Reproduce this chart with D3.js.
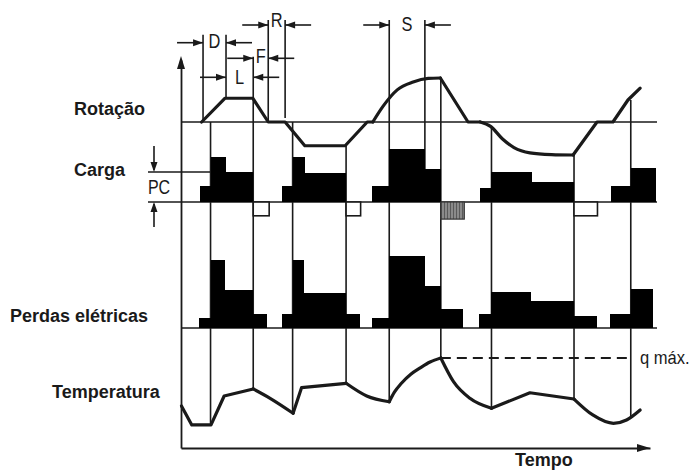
<!DOCTYPE html>
<html><head><meta charset="utf-8">
<script src="https://cdn.jsdelivr.net/npm/d3@7"></script>
<style>
body{margin:0;background:#fff;}
svg{display:block;}
.lbl{font-family:"Liberation Sans",Arial,sans-serif;font-weight:bold;font-size:18px;fill:#1a1a1a;}
.nar{font-family:"Liberation Sans",Arial,sans-serif;font-size:20px;fill:#1a1a1a;}
</style></head><body><svg id="c" width="691" height="470"></svg>
<script>
// ---------- data (time units 0..100) ----------
const boundaries     = [6.3, 15.4, 23.8, 35.2, 44.4, 55.4, 66.2, 83.8, 95.9];
const boundaryTopRot = [0, null, 0, -54, null, 100, -11, -75, 50];

const rotSegments = [
  {smooth:false, pts:[[4.4,0],[9.4,54],[15.3,54],[18.6,0],[22.2,0],[26.4,-54],[35.0,-54],[39.7,0],[40.9,0]]},
  {smooth:true,  pts:[[40.9,0],[43.1,36],[46.1,73],[49.5,91],[52.7,99],[55.3,100]]},
  {smooth:false, pts:[[55.3,100],[61.2,0],[63.8,0]]},
  {smooth:true,  pts:[[63.8,0],[66.0,-10],[68.5,-38],[71.0,-58],[74.4,-70],[79.0,-74],[83.6,-75]]},
  {smooth:false, pts:[[83.6,-75],[88.7,0],[92.1,0],[95.3,50],[97.9,77]]}
];

// load steps [start, end, value]; PC = 10
const loadSteps = [
  [4.1,6.3,5.3],[6.3,9.5,15.1],[9.5,15.4,10.1],
  [21.6,23.8,5.3],[23.8,26.4,15.1],[26.4,35.2,9.8],
  [40.8,44.4,5.3],[44.4,52.0,17.6],[52.0,55.4,11.0],
  [63.8,66.2,4.6],[66.2,74.9,9.9],[74.9,83.8,6.6],
  [91.7,95.9,5.4],[95.9,101.3,11.2]
];
const brakeSteps = [[15.4,18.8,-4.6],[35.2,38.3,-4.6],[83.8,88.8,-4.6]];
const reverseSteps = [[55.4,60.4,-5.7]];

const lossSteps = [
  [3.9,6.3,3.4],[6.3,9.4,22.7],[9.4,15.4,12.7],[15.4,18.4,4.6],
  [21.6,23.8,4.6],[23.8,26.2,22.7],[26.2,35.2,11.8],[35.2,38.2,4.6],
  [40.8,44.4,3.2],[44.4,52.0,24.0],[52.0,55.4,14.1],[55.4,60.2,6.2],
  [63.6,66.2,4.6],[66.2,74.6,12.1],[74.6,83.8,9.1],[83.8,88.8,4.0],
  [91.5,95.9,4.6],[95.9,100.6,12.9]
];

const tempSegments = [
  {smooth:false, pts:[[0.1,46.7],[2.3,25.6],[6.4,25.6],[9.2,57.8],[15.4,65.6]]},
  {smooth:true,  pts:[[15.4,65.6],[19.0,55.2],[23.9,38.6]]},
  {smooth:false, pts:[[23.9,38.6],[25.7,67.0],[35.2,71.9]]},
  {smooth:true,  pts:[[35.2,71.9],[39.6,57.8],[44.4,51.4]]},
  {smooth:true,  pts:[[44.4,51.4],[45.5,62],[47.0,72],[49.0,82],[51.0,89],[53.1,95.5],[55.4,100]]},
  {smooth:true,  pts:[[55.4,100],[58.1,73.7],[61.6,55.2],[66.2,44.1]]},
  {smooth:false, pts:[[66.2,44.1],[74.4,61.4],[83.8,54.4]]},
  {smooth:true,  pts:[[83.8,54.4],[87.8,36.7],[92.2,27.4],[95.0,31.1],[97.9,42.2]]}
];
const qMax = 100;

const dimLabels = ['D','L','F','R','S'];
const dimStart  = [4.7, 9.6, 15.4, 18.6, 44.4];
const dimEnd    = [9.6, 15.4, 18.6, 22.2, 52.0];

const rowLabels = ['Rotação','Carga','Perdas elétricas','Temperatura'];
const axisLabel = 'Tempo';

// ---------- layout ----------
const dimRowY   = [42.7, 77.3, 58.3, 25, 25];
const dimTextY  = [48.3, 83.5, 62.7, 27.3, 30.7];
const rowLabelPos = [[74,115],[74,176],[10,322],[52,398]];

const svg = d3.select('#c');
const INK = '#1a1a1a';
const x     = d3.scaleLinear().domain([0,100]).range([181,650]);
const yRot  = d3.scaleLinear().domain([0,100]).range([122,78]);
const yLoad = d3.scaleLinear().domain([0,10]).range([202,172]);
const yLoss = d3.scaleLinear().domain([0,10]).range([328,298]);
const yTemp = d3.scaleLinear().domain([0,100]).range([448,358]);
const yAx   = d3.scaleLinear().domain([0,1]).range([448,60]);
const END = 101.5;

const defs = svg.append('defs');
const pat = defs.append('pattern').attr('id','gp').attr('patternUnits','userSpaceOnUse').attr('width',3).attr('height',3);
pat.append('rect').attr('width',3).attr('height',3).attr('fill','#8a8a8a');
pat.append('rect').attr('width',1).attr('height',3).attr('fill','#5a5a5a');

function hline(x1,x2,y,w){svg.append('line').attr('x1',x1).attr('x2',x2).attr('y1',y).attr('y2',y).attr('stroke',INK).attr('stroke-width',w||1.6);}
function vline(xx,y1,y2,w){svg.append('line').attr('x1',xx).attr('x2',xx).attr('y1',y1).attr('y2',y2).attr('stroke',INK).attr('stroke-width',w||1.6);}
function arrowHead(tx,ty,dir,len,hw){
  len=len||10; hw=hw||3.5; let p;
  if(dir==='r') p=[[tx,ty],[tx-len,ty-hw],[tx-len,ty+hw]];
  if(dir==='l') p=[[tx,ty],[tx+len,ty-hw],[tx+len,ty+hw]];
  if(dir==='u') p=[[tx,ty],[tx-hw,ty+len],[tx+hw,ty+len]];
  if(dir==='d') p=[[tx,ty],[tx-hw,ty-len],[tx+hw,ty-len]];
  svg.append('polygon').attr('points',p.map(d=>d.join(',')).join(' ')).attr('fill',INK);
}
function narrowText(cx,by,txt,size,sx,anchor){
  svg.append('text').attr('class','nar').style('font-size',size+'px')
    .attr('transform',`translate(${cx},${by}) scale(${sx},1)`)
    .attr('text-anchor',anchor||'middle').text(txt);
}

const tempAll = [];
tempSegments.forEach(s=>s.pts.forEach(p=>tempAll.push(p)));
tempAll.sort((a,b)=>a[0]-b[0]);
function tempAt(t){
  for(let i=0;i<tempAll.length-1;i++){
    const a=tempAll[i],b=tempAll[i+1];
    if(t>=a[0]&&t<=b[0]){ if(b[0]===a[0]) return a[1]; return a[1]+(b[1]-a[1])*(t-a[0])/(b[0]-a[0]); }
  }
  return tempAll[tempAll.length-1][1];
}

hline(x(0), x(END), yRot(0));
hline(148, x(boundaries[0]), yLoad(10));
hline(148, x(END), yLoad(0));
hline(x(0), x(END), yLoss(0));

boundaries.forEach((t,i)=>{
  let top;
  if(boundaryTopRot[i]===null){ top = (i===1) ? dimRowY[2]-1.5 : dimRowY[4]-5; }
  else top = yRot(boundaryTopRot[i]);
  vline(x(t), top, yTemp(tempAt(t)));
});
vline(x(dimStart[0]), dimRowY[0]-8, yRot(0));
vline(x(dimEnd[0]), dimRowY[0]-8, yRot(54));
vline(x(dimStart[3]), dimRowY[3]-5, yRot(0));
vline(x(dimEnd[3]), dimRowY[3]-5, yRot(9));
vline(x(dimEnd[4]), dimRowY[4]-5, yLoad(11.0));

dimLabels.forEach((lab,i)=>{
  const a=x(dimStart[i]), b=x(dimEnd[i]), y=dimRowY[i];
  hline(a-26, a, y, 1.6); arrowHead(a, y, 'r');
  hline(b, b+26, y, 1.6); arrowHead(b, y, 'l');
  narrowText((a+b)/2, dimTextY[i], lab, 20.5, 0.8);
});

svg.append('g').selectAll('rect').data(loadSteps).join('rect')
  .attr('x',d=>x(d[0])).attr('width',d=>x(d[1])-x(d[0]))
  .attr('y',d=>yLoad(d[2])).attr('height',d=>yLoad(0)-yLoad(d[2]))
  .attr('fill','#000').attr('shape-rendering','crispEdges');
svg.append('g').selectAll('rect').data(brakeSteps).join('rect')
  .attr('x',d=>x(d[0])).attr('width',d=>x(d[1])-x(d[0]))
  .attr('y',yLoad(0)).attr('height',d=>yLoad(d[2])-yLoad(0))
  .attr('fill','#fff').attr('stroke',INK).attr('stroke-width',1.6);
svg.append('g').selectAll('rect').data(reverseSteps).join('rect')
  .attr('x',d=>x(d[0])).attr('width',d=>x(d[1])-x(d[0]))
  .attr('y',yLoad(0)).attr('height',d=>yLoad(d[2])-yLoad(0))
  .attr('fill','url(#gp)').attr('stroke','#333').attr('stroke-width',1.2);

svg.append('g').selectAll('rect').data(lossSteps).join('rect')
  .attr('x',d=>x(d[0])).attr('width',d=>x(d[1])-x(d[0]))
  .attr('y',d=>yLoss(d[2])).attr('height',d=>yLoss(0)-yLoss(d[2]))
  .attr('fill','#000').attr('shape-rendering','crispEdges');

function drawSegs(segs, ys){
  segs.forEach(s=>{
    const ln=d3.line().x(d=>x(d[0])).y(d=>ys(d[1])).curve(s.smooth?d3.curveMonotoneX:d3.curveLinear);
    svg.append('path').attr('d',ln(s.pts)).attr('fill','none').attr('stroke',INK)
      .attr('stroke-width',3.2).attr('stroke-linejoin','round').attr('stroke-linecap','round');
  });
}
drawSegs(rotSegments, yRot);
drawSegs(tempSegments, yTemp);

svg.append('line').attr('x1',x(55.4)).attr('x2',x(96.3)).attr('y1',yTemp(qMax)).attr('y2',yTemp(qMax))
  .attr('stroke',INK).attr('stroke-width',2).attr('stroke-dasharray','10,6');
narrowText(640, yTemp(qMax)+5.5, 'q máx.', 18, 0.92, 'start');

const gx = svg.append('g').attr('transform',`translate(0,${yTemp(0)})`)
  .call(d3.axisBottom(x).tickValues([]).tickSizeOuter(0));
gx.select('.domain').attr('stroke',INK).attr('stroke-width',1.8);
arrowHead(x(100), yTemp(0), 'r', 13, 4);
const gy = svg.append('g').attr('transform',`translate(${x(0)},0)`)
  .call(d3.axisLeft(yAx).tickValues([]).tickSizeOuter(0));
gy.select('.domain').attr('stroke',INK).attr('stroke-width',1.8);
arrowHead(x(0), 56, 'u', 13, 4);

vline(154, 146, yLoad(10)-2); arrowHead(154, yLoad(10), 'd', 10, 3.5);
vline(154, yLoad(0)+2, 227); arrowHead(154, yLoad(0), 'u', 10, 3.5);
narrowText(159, 193.5, 'PC', 19.5, 0.82);

rowLabels.forEach((l,i)=>{
  svg.append('text').attr('class','lbl').attr('x',rowLabelPos[i][0]).attr('y',rowLabelPos[i][1]).text(l);
});
svg.append('text').attr('class','lbl').attr('x',515).attr('y',466).text(axisLabel);
</script></body></html>
